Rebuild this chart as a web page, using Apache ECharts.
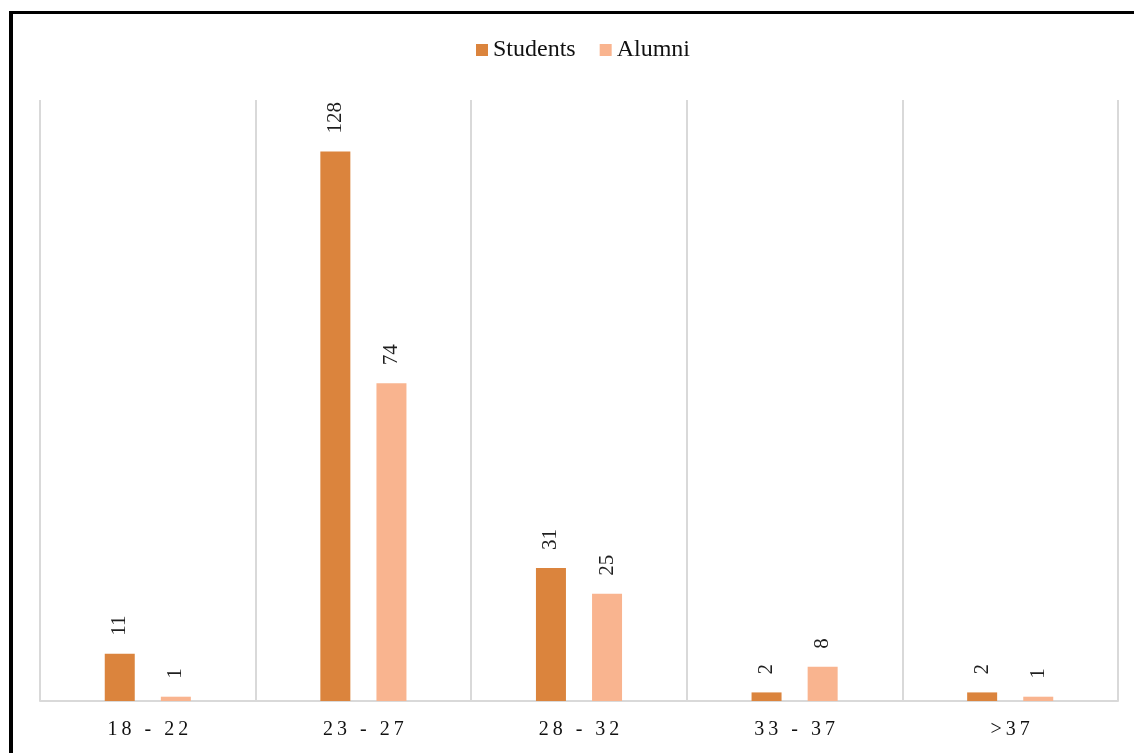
<!DOCTYPE html>
<html><head><meta charset="utf-8">
<script src="https://cdn.jsdelivr.net/npm/echarts@6/dist/echarts.min.js"></script>
<style>html,body{margin:0;padding:0;background:#fff}#c{width:1134px;height:753px}</style>
</head><body><div id="c"></div>
<script>
const categories = ['18 - 22', '23 - 27', '28 - 32', '33 - 37', '>37'];
const students = [11, 128, 31, 2, 2];
const alumni = [1, 74, 25, 8, 1];

const serif = '"Liberation Serif", "DejaVu Serif", serif';
const chart = echarts.init(document.getElementById('c'));
const lbl = {show: true, position: 'top', rotate: 90, align: 'left', verticalAlign: 'middle', distance: 18, color: '#1f1f1f', fontFamily: serif, fontSize: 21};
chart.setOption({
  animation: false,
  graphic: [
    {type: 'rect', shape: {x: 9, y: 11, width: 4, height: 760}, style: {fill: '#000'}},
    {type: 'rect', shape: {x: 9, y: 11, width: 1200, height: 3}, style: {fill: '#000'}}
  ],
  legend: {
    top: 33, left: 471, itemWidth: 12, itemHeight: 12, itemGap: 24,
    textStyle: {fontFamily: serif, fontSize: 24, color: '#111'},
    data: [{name: 'Students', icon: 'rect'}, {name: 'Alumni', icon: 'rect'}]
  },
  grid: {left: 40, right: 16, top: 100, bottom: 52},
  xAxis: {
    type: 'category', data: categories,
    axisLine: {lineStyle: {color: '#d9d9d9', width: 2}},
    axisTick: {show: false},
    splitLine: {show: true, lineStyle: {color: '#d9d9d9', width: 2}},
    axisLabel: {margin: 19, fontFamily: serif, fontSize: 20, color: '#111',
      formatter: v => v.split('').join('\u2009')}
  },
  yAxis: {type: 'value', min: 0, max: 140, show: false, splitLine: {show: false}},
  series: [
    {name: 'Students', type: 'bar', data: students, barWidth: 30, barGap: '87%', itemStyle: {color: '#DB843D'}, label: lbl},
    {name: 'Alumni', type: 'bar', data: alumni, barWidth: 30, itemStyle: {color: '#F9B48F'}, label: lbl}
  ]
});
</script></body></html>
